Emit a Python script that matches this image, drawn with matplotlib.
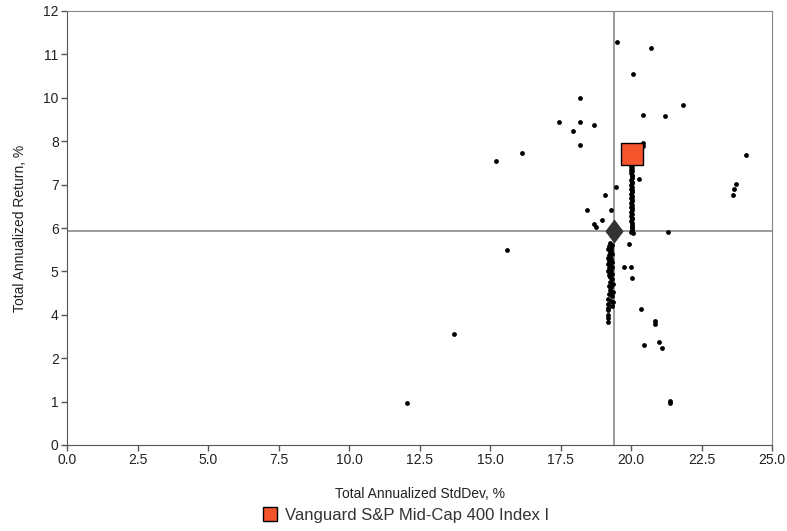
import numpy as np
import matplotlib
matplotlib.use("Agg")
import matplotlib.pyplot as plt
from matplotlib.lines import Line2D
from matplotlib.path import Path

plt.rcParams["font.family"] = ["Liberation Sans", "DejaVu Sans"]

# Peer funds: scattered points (StdDev %, Return %)
peer_x = [19.49, 20.71, 20.08, 18.19, 21.86, 17.45, 18.19, 17.96, 18.68, 20.41,
          21.21, 18.19, 16.15, 24.09, 15.22, 15.60, 13.73, 12.04, 23.74, 23.67,
          23.60, 21.31, 20.85, 20.85, 21.01, 21.10, 21.38, 21.38, 20.46, 20.43,
          20.43, 20.27, 19.48, 19.08, 18.45, 19.29, 18.98, 18.69, 18.76, 19.94,
          19.76, 20.00, 20.02, 20.37]
peer_y = [11.13, 10.97, 10.26, 9.59, 9.40, 8.92, 8.92, 8.69, 8.85, 9.12,
          9.10, 8.30, 8.06, 8.03, 7.84, 5.39, 3.06, 1.15, 7.22, 7.07,
          6.90, 5.89, 3.42, 3.35, 2.85, 2.68, 1.22, 1.16, 2.77, 8.36,
          8.28, 7.35, 7.14, 6.91, 6.49, 6.49, 6.22, 6.10, 6.04, 5.55,
          4.91, 4.93, 4.63, 3.76]

# Peer funds: dense column right of the category average
col_a_x = [20.02, 20.04, 20.00, 20.03, 20.01, 20.05, 20.00, 20.03, 20.02, 20.04,
           20.00, 20.02, 20.04, 20.01, 20.03, 20.00, 20.02, 20.05, 20.01, 20.03,
           20.00, 20.02, 20.04, 20.01, 20.03, 20.00, 20.02, 20.04, 20.01, 20.03,
           20.00, 20.02, 20.04, 20.01, 20.03, 20.02, 20.04, 20.02, 20.05, 19.99,
           20.07]
col_a_y = [7.80, 7.75, 7.70, 7.66, 7.61, 7.57, 7.52, 7.47, 7.43, 7.38,
           7.33, 7.28, 7.24, 7.19, 7.14, 7.09, 7.04, 6.99, 6.94, 6.89,
           6.84, 6.79, 6.74, 6.69, 6.64, 6.59, 6.54, 6.49, 6.44, 6.39,
           6.34, 6.29, 6.24, 6.19, 6.14, 6.09, 6.04, 5.99, 5.94, 5.90,
           5.87]

# Peer funds: dense column below the category average
col_b_x = [19.26, 19.32, 19.22, 19.28, 19.20, 19.30, 19.24, 19.32, 19.21, 19.27,
           19.19, 19.29, 19.23, 19.31, 19.20, 19.26, 19.32, 19.22, 19.28, 19.19,
           19.26, 19.31, 19.21, 19.27, 19.32, 19.24, 19.36, 19.22, 19.30, 19.26,
           19.36, 19.22, 19.34, 19.19, 19.28, 19.36, 19.20, 19.32, 19.19, 19.18,
           19.18, 19.18, 19.18]
col_b_y = [5.58, 5.54, 5.50, 5.46, 5.41, 5.37, 5.33, 5.29, 5.25, 5.21,
           5.17, 5.13, 5.09, 5.05, 5.01, 4.97, 4.93, 4.89, 4.85, 4.81,
           4.77, 4.73, 4.69, 4.65, 4.58, 4.52, 4.46, 4.40, 4.36, 4.28,
           4.22, 4.18, 4.12, 4.05, 3.98, 3.96, 3.90, 3.85, 3.78, 3.73,
           3.60, 3.50, 3.40]

# Category average and the highlighted fund
avg_x, avg_y = 19.40, 5.93
fund_name = "Vanguard S&P Mid-Cap 400 Index I"
fund_x, fund_y = 20.04, 8.05

# Axis ticks (y labels are rounded values of 1.2 steps)
x_ticks = [0.0, 2.5, 5.0, 7.5, 10.0, 12.5, 15.0, 17.5, 20.0, 22.5, 25.0]
y_ticks = [0.0, 1.2, 2.4, 3.6, 4.8, 6.0, 7.2, 8.4, 9.6, 10.8, 12.0]
y_tick_labels = ["0", "1", "2", "4", "5", "6", "7", "8", "10", "11", "12"]

fig = plt.figure(figsize=(7.87, 5.31), dpi=100)
ax = fig.add_axes([67 / 787, 86 / 531, 705 / 787, 434 / 531])

# crosshair through the category average
ax.axvline(avg_x, color="#8a8a8a", lw=1.2, zorder=1)
ax.axhline(avg_y, color="#8a8a8a", lw=1.2, zorder=1)

ax.scatter(peer_x + col_a_x + col_b_x, peer_y + col_a_y + col_b_y,
           s=12, color="black", linewidths=0, zorder=2)

diamond = Path([(0, 1), (0.75, 0), (0, -1), (-0.75, 0), (0, 1)],
               [Path.MOVETO, Path.LINETO, Path.LINETO, Path.LINETO, Path.CLOSEPOLY])
ax.scatter([avg_x], [avg_y], marker=diamond, s=250, color="#333333", zorder=3)
ax.scatter([fund_x], [fund_y], marker="s", s=250, color="#F4552D",
           edgecolors="black", linewidths=1, zorder=4)

ax.set_xlim(0, 25)
ax.set_ylim(0, 12)
ax.set_xticks(x_ticks)
ax.set_xticklabels([f"{t:.1f}" for t in x_ticks])
ax.set_yticks(y_ticks)
ax.set_yticklabels(y_tick_labels)
ax.tick_params(direction="out", length=4, width=1, color="#555555",
               labelsize=10, labelcolor="#222222", pad=2)

for side in ["left", "bottom"]:
    ax.spines[side].set_color("#555555")
for side in ["top", "right"]:
    ax.spines[side].set_color("#888888")

ax.set_xlabel("Total Annualized StdDev, %", fontsize=10, color="#222222", labelpad=14)
ax.set_ylabel("Total Annualized Return, %", fontsize=10, color="#222222", labelpad=12)

handle = Line2D([], [], marker="s", linestyle="None", markersize=10,
                markerfacecolor="#F4552D", markeredgecolor="black", markeredgewidth=1)
leg = fig.legend(handles=[handle], labels=[fund_name], loc="center",
                 bbox_to_anchor=(0.515, 0.03), frameon=False, fontsize=12,
                 handletextpad=0.4, handlelength=1.0)
for t in leg.get_texts():
    t.set_color("#333333")

fig.savefig("out.png", dpi=100)
